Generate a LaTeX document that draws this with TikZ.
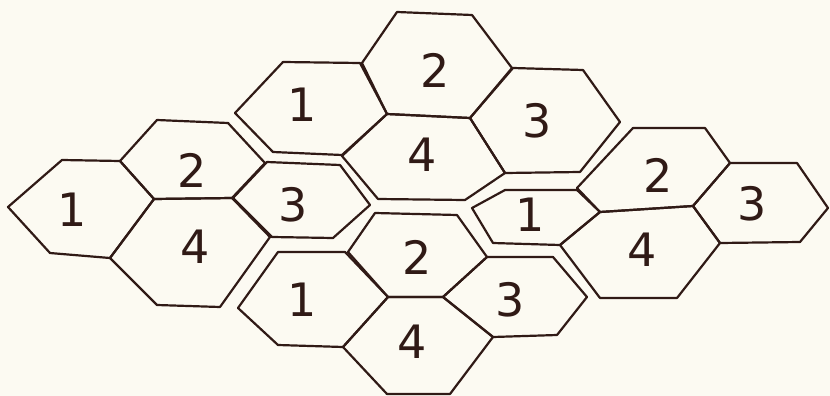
\documentclass[tikz,border=0pt]{standalone}
\usepackage{fontspec}
\setmainfont{DejaVu Sans}
\definecolor{paper}{RGB}{252,250,242}
\definecolor{ink}{RGB}{48,26,22}

\begin{document}
\begin{tikzpicture}[
    x=1pt,y=-1pt,
    hexline/.style={draw=ink,line width=2.2pt,line join=round,line cap=round},
    digit/.style={text=ink,font=\fontsize{46}{46}\selectfont,inner sep=0pt}
  ]
    \fill[paper] (0,0) rectangle (830,396);
    \useasboundingbox (0,0) rectangle (830,396);

    % top cluster
    \draw[hexline] (283,62) -- (360,63) -- (387,114) -- (342,155) -- (273,152) -- (235,113) -- cycle;
    \draw[hexline] (397,12) -- (472,15) -- (512,68) -- (470,118) -- (387,114) -- (362,63) -- cycle;
    \draw[hexline] (513,68) -- (583,70) -- (620,122) -- (580,172) -- (505,173) -- (470,118) -- cycle;
    \draw[hexline] (387,114) -- (470,118) -- (505,173) -- (465,200) -- (378,199) -- (342,156) -- cycle;
    \node[digit] (top1) at (302,105) {1};
    \node[digit] (top2) at (435,70) {2};
    \node[digit] (top3) at (537,121) {3};
    \node[digit] (top4) at (422,155) {4};

    % left cluster
    \draw[hexline] (62,160) -- (120,161) -- (154,199) -- (110,258) -- (50,253) -- (8,207) -- cycle;
    \draw[hexline] (157,120) -- (228,123) -- (265,163) -- (232,198) -- (154,199) -- (120,161) -- cycle;
    \draw[hexline] (267,162) -- (340,165) -- (370,205) -- (333,238) -- (272,237) -- (233,198) -- cycle;
    \draw[hexline] (154,199) -- (232,198) -- (270,237) -- (220,307) -- (157,305) -- (110,258) -- cycle;
    \node[digit] (left1) at (72,210) {1};
    \node[digit] (left2) at (192,170) {2};
    \node[digit] (left3) at (293,205) {3};
    \node[digit] (left4) at (195,247) {4};

    % bottom cluster
    \draw[hexline] (278,252) -- (345,252) -- (388,297) -- (343,347) -- (278,345) -- (238,308) -- cycle;
    \draw[hexline] (375,213) -- (457,215) -- (487,257) -- (443,297) -- (388,297) -- (348,252) -- cycle;
    \draw[hexline] (487,257) -- (553,257) -- (587,297) -- (557,335) -- (493,337) -- (443,297) -- cycle;
    \draw[hexline] (388,297) -- (443,297) -- (493,337) -- (450,394) -- (387,394) -- (343,347) -- cycle;
    \node[digit] (bot1) at (302,300) {1};
    \node[digit] (bot2) at (417,257) {2};
    \node[digit] (bot3) at (510,300) {3};
    \node[digit] (bot4) at (412,342) {4};

    % right cluster
    \draw[hexline] (505,190) -- (577,190) -- (600,212) -- (560,245) -- (493,243) -- (472,208) -- cycle;
    \draw[hexline] (633,128) -- (705,128) -- (730,163) -- (693,206) -- (600,212) -- (577,188) -- cycle;
    \draw[hexline] (730,163) -- (797,163) -- (828,208) -- (800,242) -- (720,243) -- (693,206) -- cycle;
    \draw[hexline] (600,212) -- (693,206) -- (720,243) -- (677,298) -- (600,298) -- (560,245) -- cycle;
    \node[digit] (right1) at (530,215) {1};
    \node[digit] (right2) at (658,175) {2};
    \node[digit] (right3) at (752,204) {3};
    \node[digit] (right4) at (642,250) {4};
  \end{tikzpicture}
\end{document}
